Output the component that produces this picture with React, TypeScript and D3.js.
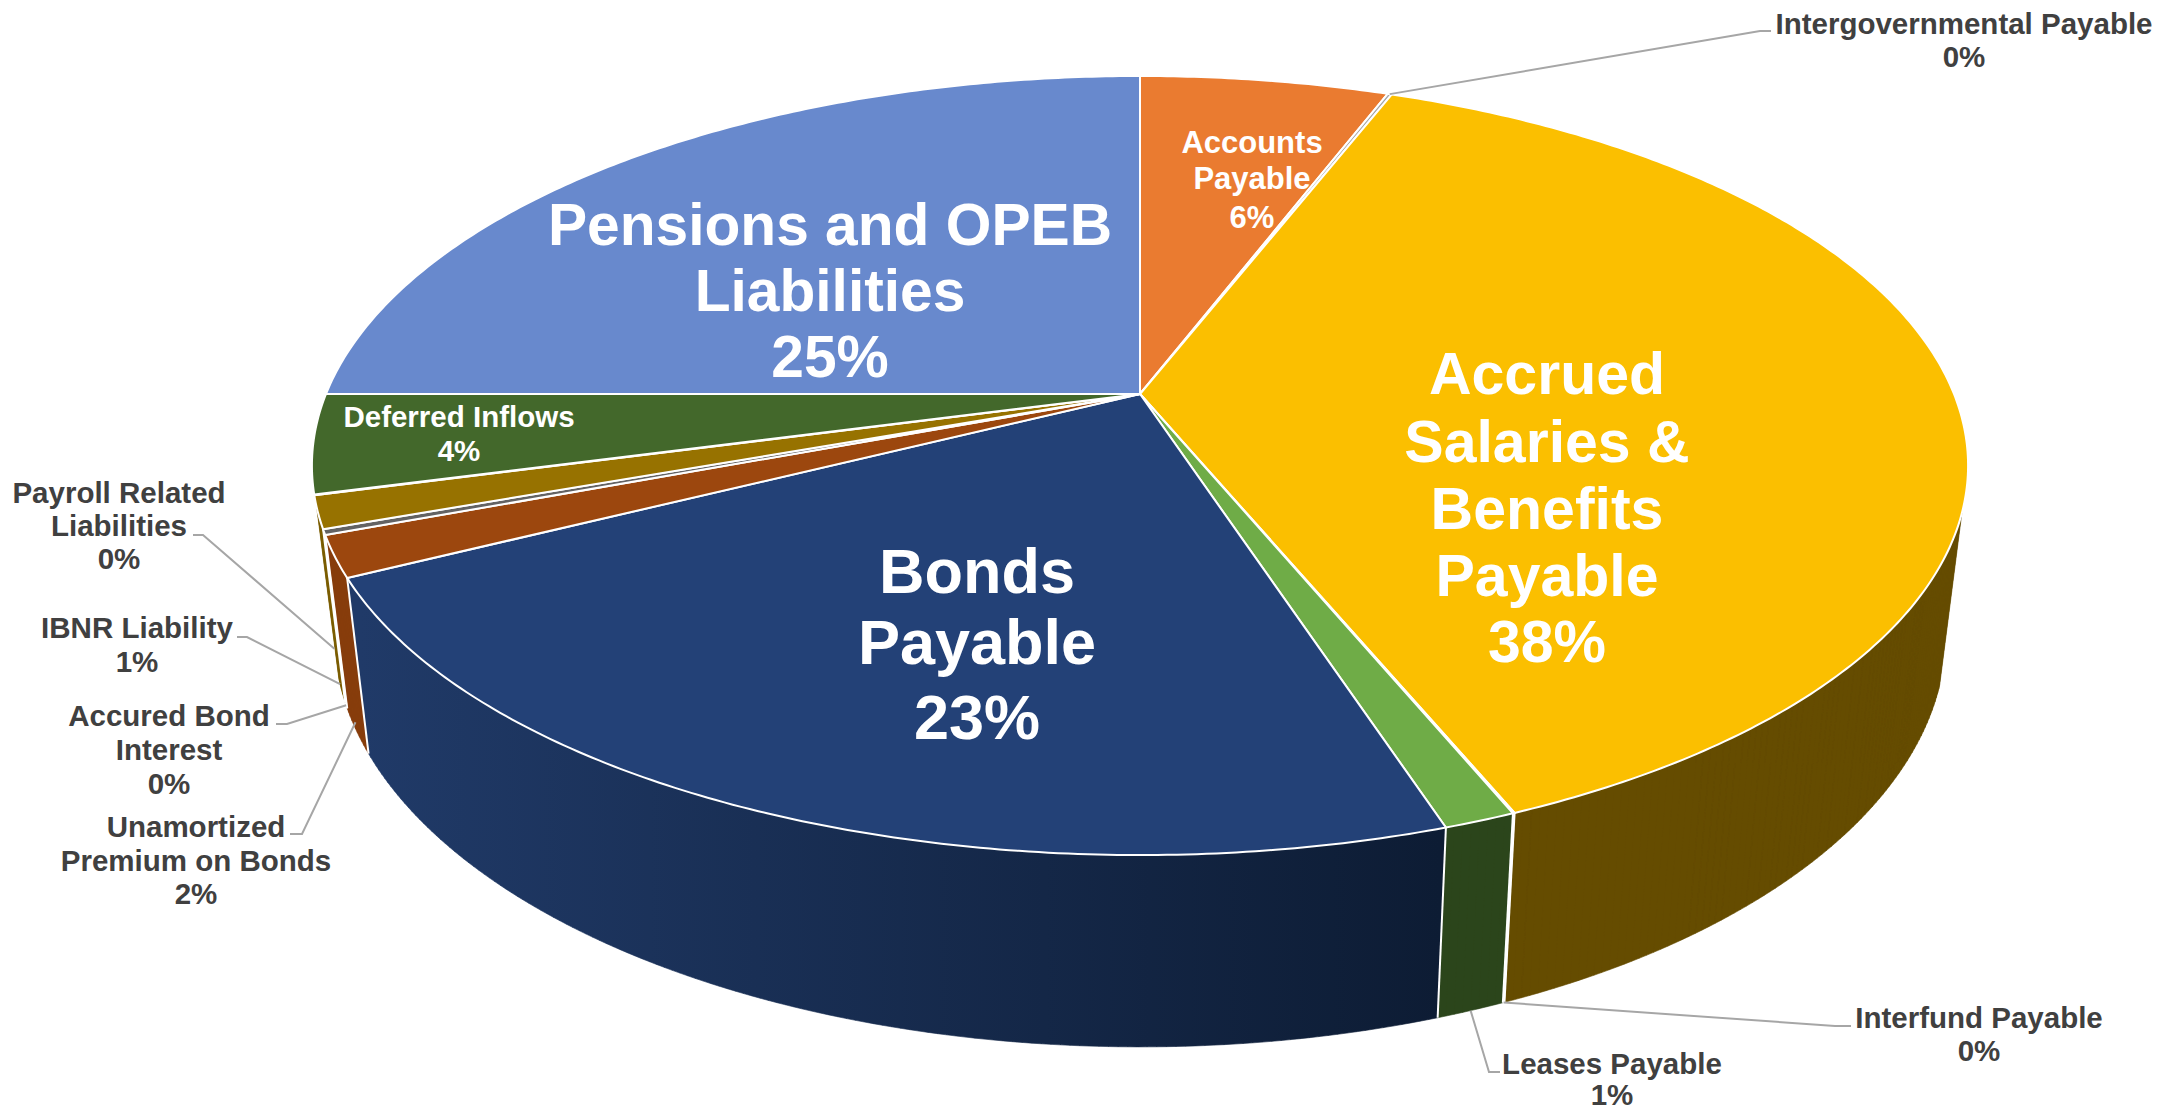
import React from "react";
import * as d3 from "d3";

const categories = ["Accounts Payable","Intergovernmental Payable","Accrued Salaries & Benefits Payable","Interfund Payable","Leases Payable","Bonds Payable","Unamortized Premium on Bonds","Accured Bond Interest","IBNR Liability","Payroll Related Liabilities","Deferred Inflows","Pensions and OPEB Liabilities"];
const shares = [5.8,0.1,37.86,0.03,1.19,22.62,1.7,0.23,1.34,0.03,4.1,25];
const topColors = ["#EA7B30","#A5A5A5","#FBBF00","#FFFFFF","#6FAC47","#234177","#9C470E","#636363","#977200","#FFFFFF","#43682B","#6889CD"];
const sideColors = ["#8C4A1D","#636363","#654C00","#FFFFFF","#2B451B","url(#bondsWall)","#873D0B","#FFFFFF","#7A5C00","#FFFFFF","#28401A","#3F5288"];

const W = 2166, H = 1111;
const apex = { x: 1140, y: 394 };
const persp = { A: 814, B: 376.4, k: -0.1836 };
const wall = { sx: 0.973, d0: 172, d1: 0.058, y0: 513 };

function topPoint(theta: number): [number, number] {
  const X = Math.sin(theta), Y = -Math.cos(theta);
  const w = 1 + persp.k * Y;
  return [apex.x + (persp.A * X) / w, apex.y + (persp.B * Y) / w];
}
function bottomPoint(theta: number): [number, number] {
  const [x, y] = topPoint(theta);
  return [apex.x + wall.sx * (x - apex.x), y + wall.d0 + wall.d1 * (y - wall.y0)];
}
function wallPoint(theta: number, t: number): [number, number] {
  const a = topPoint(theta), b = bottomPoint(theta);
  return [a[0] + (b[0] - a[0]) * t, a[1] + (b[1] - a[1]) * t];
}

const pieGen = d3.pie<number>().sort(null).startAngle(0).endAngle(2 * Math.PI);
const arcs = pieGen(shares);
const line = d3.line();
const samples = (a: number, b: number) => {
  const n = Math.max(2, Math.ceil(Math.abs(b - a) / 0.01));
  return d3.range(n + 1).map((i) => a + ((b - a) * i) / n);
};

const visFrom = (107.4 * Math.PI) / 180, visTo = (253.5 * Math.PI) / 180;

type Lab = { lines: string[]; x: number; ys: number[]; size: number; fill: string };
const WHITE = "#FFFFFF", GREY = "#404040";
const labels: Lab[] = [
  { lines: ["Pensions and OPEB", "Liabilities", "25%"], x: 830, ys: [224, 290, 356], size: 58.7, fill: WHITE },
  { lines: ["Accrued", "Salaries &", "Benefits", "Payable", "38%"], x: 1547, ys: [373, 441, 508, 575, 641], size: 59, fill: WHITE },
  { lines: ["Bonds", "Payable", "23%"], x: 977, ys: [570, 641, 716], size: 63, fill: WHITE },
  { lines: ["Accounts", "Payable", "6%"], x: 1252, ys: [142, 178, 217], size: 31, fill: WHITE },
  { lines: ["Deferred Inflows", "4%"], x: 459, ys: [416, 450], size: 29.5, fill: WHITE },
  { lines: ["Intergovernmental Payable", "0%"], x: 1964, ys: [23, 56], size: 29.5, fill: GREY },
  { lines: ["Interfund Payable", "0%"], x: 1979, ys: [1017, 1050], size: 29.5, fill: GREY },
  { lines: ["Leases Payable", "1%"], x: 1612, ys: [1063, 1094], size: 29.5, fill: GREY },
  { lines: ["Payroll Related", "Liabilities", "0%"], x: 119, ys: [492, 525, 558], size: 29.5, fill: GREY },
  { lines: ["IBNR Liability", "1%"], x: 137, ys: [627, 661], size: 29.5, fill: GREY },
  { lines: ["Accured Bond", "Interest", "0%"], x: 169, ys: [715, 749, 783], size: 29.5, fill: GREY },
  { lines: ["Unamortized", "Premium on Bonds", "2%"], x: 196, ys: [826, 860, 893], size: 29.5, fill: GREY },
];

type Lead = { slice: number; t: number; pts: [number, number][] };
const leaders: Lead[] = [
  { slice: 1, t: 0, pts: [[1760, 31], [1771, 31]] },
  { slice: 3, t: 1, pts: [[1835, 1026], [1851, 1026]] },
  { slice: 4, t: 1, pts: [[1489, 1072], [1500, 1072]] },
  { slice: 9, t: 0.9, pts: [[203, 535], [193, 535]] },
  { slice: 8, t: 1, pts: [[247, 637], [237, 637]] },
  { slice: 7, t: 1, pts: [[287, 724], [276, 724]] },
  { slice: 6, t: 0.95, pts: [[302, 834], [290, 834]] },
];

export default function App() {
  const mid = (i: number) => (arcs[i].startAngle + arcs[i].endAngle) / 2;
  return (
    <svg width={W} height={H} viewBox={`0 0 ${W} ${H}`} style={{ position: "absolute", left: 0, top: 0, display: "block" }} fontFamily="'Liberation Sans', Arial, sans-serif" fontWeight="bold">
      <defs>
        <linearGradient id="bondsWall" gradientUnits="userSpaceOnUse" x1={360} y1={0} x2={1440} y2={0}>
          <stop offset="0" stopColor="#203A68" />
          <stop offset="1" stopColor="#0D1C34" />
        </linearGradient>
      </defs>
      <rect width={W} height={H} fill="#FFFFFF" />
      <g>
        {arcs.map((a, i) => {
          const s = Math.max(a.startAngle, visFrom), e = Math.min(a.endAngle, visTo);
          if (e <= s) return null;
          const th = samples(s, e);
          const quads = th.slice(1).map((t, k) =>
            line([topPoint(th[k]), topPoint(t), bottomPoint(t), bottomPoint(th[k])]) + "Z"
          ).join("");
          return <path key={i} d={quads} fill={sideColors[i]} stroke={sideColors[i]} strokeWidth={0.6} />;
        })}
        {arcs.map((a, i) => {
          if (a.endAngle <= visFrom || a.endAngle >= visTo) return null;
          return <path key={i} d={line([topPoint(a.endAngle), bottomPoint(a.endAngle)]) as string} stroke="#FFFFFF" strokeWidth={2} fill="none" />;
        })}
      </g>
      <g>
        {arcs.map((a, i) => {
          const pts: [number, number][] = [[apex.x, apex.y], ...samples(a.startAngle, a.endAngle).map(topPoint)];
          return <path key={i} d={line(pts) + "Z"} fill={topColors[i]} stroke="#FFFFFF" strokeWidth={2} strokeLinejoin="round" />;
        })}
      </g>
      <g fill="none" stroke="#A6A6A6" strokeWidth={2}>
        {leaders.map((l, i) => (
          <path key={i} d={line([wallPoint(mid(l.slice), l.t), ...l.pts]) as string} />
        ))}
      </g>
      <g textAnchor="middle">
        {labels.map((l, i) => (
          <text key={i} fill={l.fill} fontSize={l.size}>
            {l.lines.map((t, j) => (
              <tspan key={j} x={l.x} y={l.ys[j] + l.size * 0.36}>{t}</tspan>
            ))}
          </text>
        ))}
      </g>
    </svg>
  );
}
